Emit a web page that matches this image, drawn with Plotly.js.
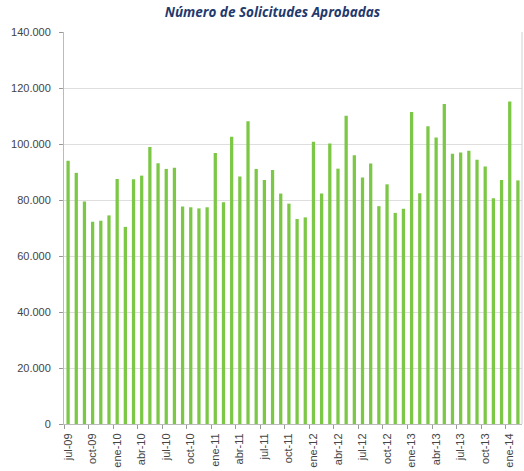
<!DOCTYPE html>
<html>
<head>
<meta charset="utf-8">
<script src="https://cdn.plot.ly/plotly-3.0.1.min.js"></script>
<style>html,body{margin:0;padding:0;background:#fff;}#chart{width:524px;height:471px;}</style>
</head>
<body>
<div id="chart"></div>
<script>
var months = ["jul-09","ago-09","sep-09","oct-09","nov-09","dic-09",
  "ene-10","feb-10","mar-10","abr-10","may-10","jun-10","jul-10","ago-10","sep-10","oct-10","nov-10","dic-10",
  "ene-11","feb-11","mar-11","abr-11","may-11","jun-11","jul-11","ago-11","sep-11","oct-11","nov-11","dic-11",
  "ene-12","feb-12","mar-12","abr-12","may-12","jun-12","jul-12","ago-12","sep-12","oct-12","nov-12","dic-12",
  "ene-13","feb-13","mar-13","abr-13","may-13","jun-13","jul-13","ago-13","sep-13","oct-13","nov-13","dic-13",
  "ene-14","feb-14"];
var approved = [94000,89700,79500,72200,72600,74500,87500,70400,87400,88700,98900,93100,91100,91500,77700,77400,77000,77400,
  96800,79200,102600,88400,108100,91100,87100,90700,82300,78700,73200,73800,
  100800,82300,100200,91200,110100,96000,88000,93000,77800,85600,75400,76900,
  111400,82400,106300,102300,114300,96500,97000,97600,94400,92000,80600,87100,
  115200,87000];
var tickLabels = months.filter(function(m,i){return i%3===0;});
var idx = months.map(function(m,i){return i;});
var boundaryTicks = idx.filter(function(i){return i%3===0;}).map(function(i){return i-0.5;});

var trace = {
  type: "bar",
  x: months,
  y: approved,
  marker: {color: "#7cc846"},
  hoverinfo: "x+y"
};
var tickHolder = {
  type: "scatter", mode: "markers",
  x: idx, y: approved,
  xaxis: "x2", yaxis: "y",
  marker: {opacity: 0, size: 1},
  hoverinfo: "skip", showlegend: false
};

var layout = {
  width: 524, height: 471,
  margin: {l: 64, r: 2, t: 32, b: 47},
  paper_bgcolor: "#fff", plot_bgcolor: "#fff",
  separators: ",.",
  bargap: 0.6,
  showlegend: false,
  title: {
    text: "<b><i>Número de Solicitudes Aprobadas</i></b>",
    font: {family: "Open Sans, Liberation Sans, sans-serif", size: 13.5, color: "#1f3a6e"},
    x: 0.52, xanchor: "center", y: 0.985, yanchor: "top"
  },
  xaxis: {
    type: "category",
    tickmode: "array",
    tickvals: tickLabels,
    ticktext: tickLabels,
    tickangle: -90,
    ticks: "", ticklen: 4,
    ticklabelstandoff: 4,
    tickfont: {family: "Liberation Sans, Arial, sans-serif", size: 11, color: "#444"},
    showline: true, linecolor: "#bbb",
    showgrid: false,
    range: [-0.5, 55.5],
    fixedrange: true
  },
  xaxis2: {
    overlaying: "x", anchor: "y", side: "bottom",
    range: [-0.5, 55.5],
    tickmode: "array", tickvals: boundaryTicks,
    ticks: "outside", ticklen: 4, tickcolor: "#999",
    showticklabels: false, showgrid: false, showline: false, zeroline: false,
    fixedrange: true
  },
  yaxis: {
    range: [0, 140000],
    tickvals: [0,20000,40000,60000,80000,100000,120000,140000],
    tickformat: ",d",
    ticks: "outside", ticklen: 4, tickcolor: "#999",
    ticklabelstandoff: 6,
    tickfont: {family: "Liberation Sans, Arial, sans-serif", size: 11, color: "#444"},
    showline: true, linecolor: "#bbb",
    gridcolor: "#dedede", gridwidth: 1,
    zeroline: false,
    fixedrange: true
  },
  shapes: [{type:"line", xref:"paper", yref:"paper", x0:1, x1:1, y0:0, y1:1, line:{color:"#d0d0d0", width:1}}]
};

Plotly.newPlot("chart", [trace, tickHolder], layout, {displayModeBar: false, staticPlot: true});
</script>
</body>
</html>
